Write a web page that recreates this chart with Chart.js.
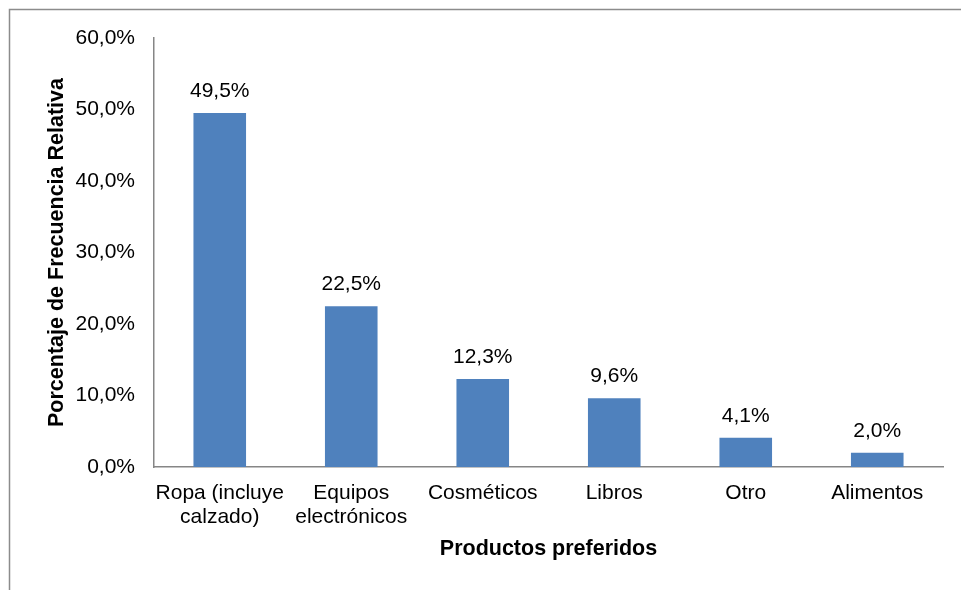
<!DOCTYPE html>
<html>
<head>
<meta charset="utf-8">
<script src="https://cdn.jsdelivr.net/npm/chart.js@4/dist/chart.umd.min.js"></script>
<style>
  html, body { margin: 0; padding: 0; background: #fff; }
</style>
</head>
<body>
<canvas id="chart" width="961" height="590"></canvas>
<script>
// Productos preferidos, % de frecuencia relativa
const categories = [
  ['Ropa (incluye', 'calzado)'],
  ['Equipos', 'electrónicos'],
  'Cosméticos',
  'Libros',
  'Otro',
  'Alimentos'
]
const percentages = [49.5, 22.5, 12.3, 9.6, 4.1, 2.0]
const yTicks = [0, 10, 20, 30, 40, 50, 60]

const FONT = '"Liberation Sans", Arial, sans-serif'
const AXIS_GRAY = '#868686'

const fmt = v => v.toFixed(1).replace('.', ',') + '%'

// outer frame of the chart object (only top and left edges are visible)
const framePlugin = {
  id: 'frame',
  beforeDraw(chart) {
    const ctx = chart.ctx
    ctx.save()
    ctx.strokeStyle = '#8c8c8c'
    ctx.lineWidth = 1.5
    ctx.beginPath()
    ctx.moveTo(9.5, 590)
    ctx.lineTo(9.5, 9.5)
    ctx.lineTo(961, 9.5)
    ctx.stroke()
    ctx.restore()
  }
}

// value labels above each bar
const valueLabels = {
  id: 'valueLabels',
  afterDatasetsDraw(chart) {
    const ctx = chart.ctx
    const meta = chart.getDatasetMeta(0)
    ctx.save()
    ctx.font = '21px ' + FONT
    ctx.fillStyle = '#000'
    ctx.textAlign = 'center'
    ctx.textBaseline = 'alphabetic'
    meta.data.forEach((bar, i) => {
      ctx.fillText(fmt(percentages[i]), bar.x, bar.y - 16)
    })
    ctx.restore()
  }
}

new Chart(document.getElementById('chart').getContext('2d'), {
  type: 'bar',
  data: {
    labels: categories,
    datasets: [{
      data: percentages,
      backgroundColor: '#4F81BD',
      borderWidth: 0,
      categoryPercentage: 1,
      barPercentage: 0.4
    }]
  },
  options: {
    responsive: false,
    animation: false,
    layout: {padding: {left: 44, right: 18, top: 38, bottom: 28}},
    plugins: {
      legend: {display: false},
      tooltip: {enabled: false}
    },
    scales: {
      x: {
        grid: {display: false, drawTicks: false},
        border: {color: AXIS_GRAY, width: 1.5},
        ticks: {
          color: '#000',
          padding: 14,
          maxRotation: 0,
          autoSkip: false,
          font: {family: FONT, size: 21, lineHeight: 1.15}
        },
        title: {
          display: true,
          text: 'Productos preferidos',
          color: '#000',
          padding: 0,
          font: {family: FONT, size: 21.5, weight: 'bold'}
        },
        afterFit(scale) { scale.height = 95 }
      },
      y: {
        min: 0,
        max: 60,
        grid: {display: false, drawTicks: false},
        border: {color: AXIS_GRAY, width: 1.5},
        afterBuildTicks(scale) { scale.ticks = yTicks.map(v => ({value: v})) },
        ticks: {
          color: '#000',
          padding: 19,
          font: {family: FONT, size: 21},
          callback: v => fmt(v)
        },
        title: {
          display: true,
          text: 'Porcentaje de Frecuencia Relativa',
          color: '#000',
          padding: 0,
          font: {family: FONT, size: 21.5, weight: 'bold'}
        },
        afterFit(scale) { scale.width = 110 }
      }
    }
  },
  plugins: [framePlugin, valueLabels]
})
</script>
</body>
</html>
